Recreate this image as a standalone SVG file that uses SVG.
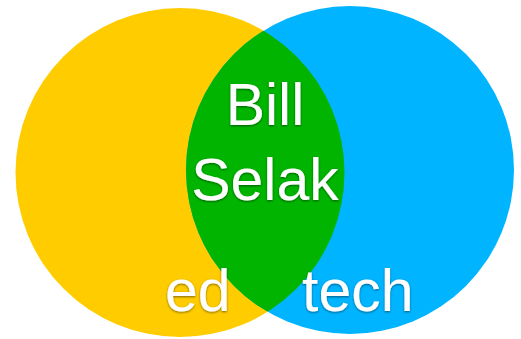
<svg xmlns="http://www.w3.org/2000/svg" width="521" height="339" viewBox="0 0 521 339">
<style>
.t{font-family:"Liberation Sans",Arial,sans-serif;fill:#fff;font-size:59px;filter:url(#sh)}
</style>
<defs>
<clipPath id="clipL"><circle cx="180" cy="172.5" r="164.5"/></clipPath>
<filter id="sh" x="-10%" y="-10%" width="120%" height="130%"><feDropShadow dx="0" dy="1" stdDeviation="0.8" flood-color="#000" flood-opacity="0.5"/></filter>
</defs>
<rect width="521" height="339" fill="#fff"/>
<g id="ed-circle"><circle cx="180" cy="172.5" r="164.5" fill="#FFCC00"/></g>
<g id="tech-circle"><circle cx="350" cy="170" r="164" fill="#00B4FF"/></g>
<g id="overlap"><circle cx="350" cy="170" r="164" fill="#00B400" clip-path="url(#clipL)"/></g>
<g id="labels">
<text class="t" x="265" y="125" text-anchor="middle">Bill</text>
<text class="t" x="265" y="200" text-anchor="middle">Selak</text>
<text class="t" x="165" y="311">ed</text>
<text class="t" x="302" y="311">tech</text>
</g>
</svg>
